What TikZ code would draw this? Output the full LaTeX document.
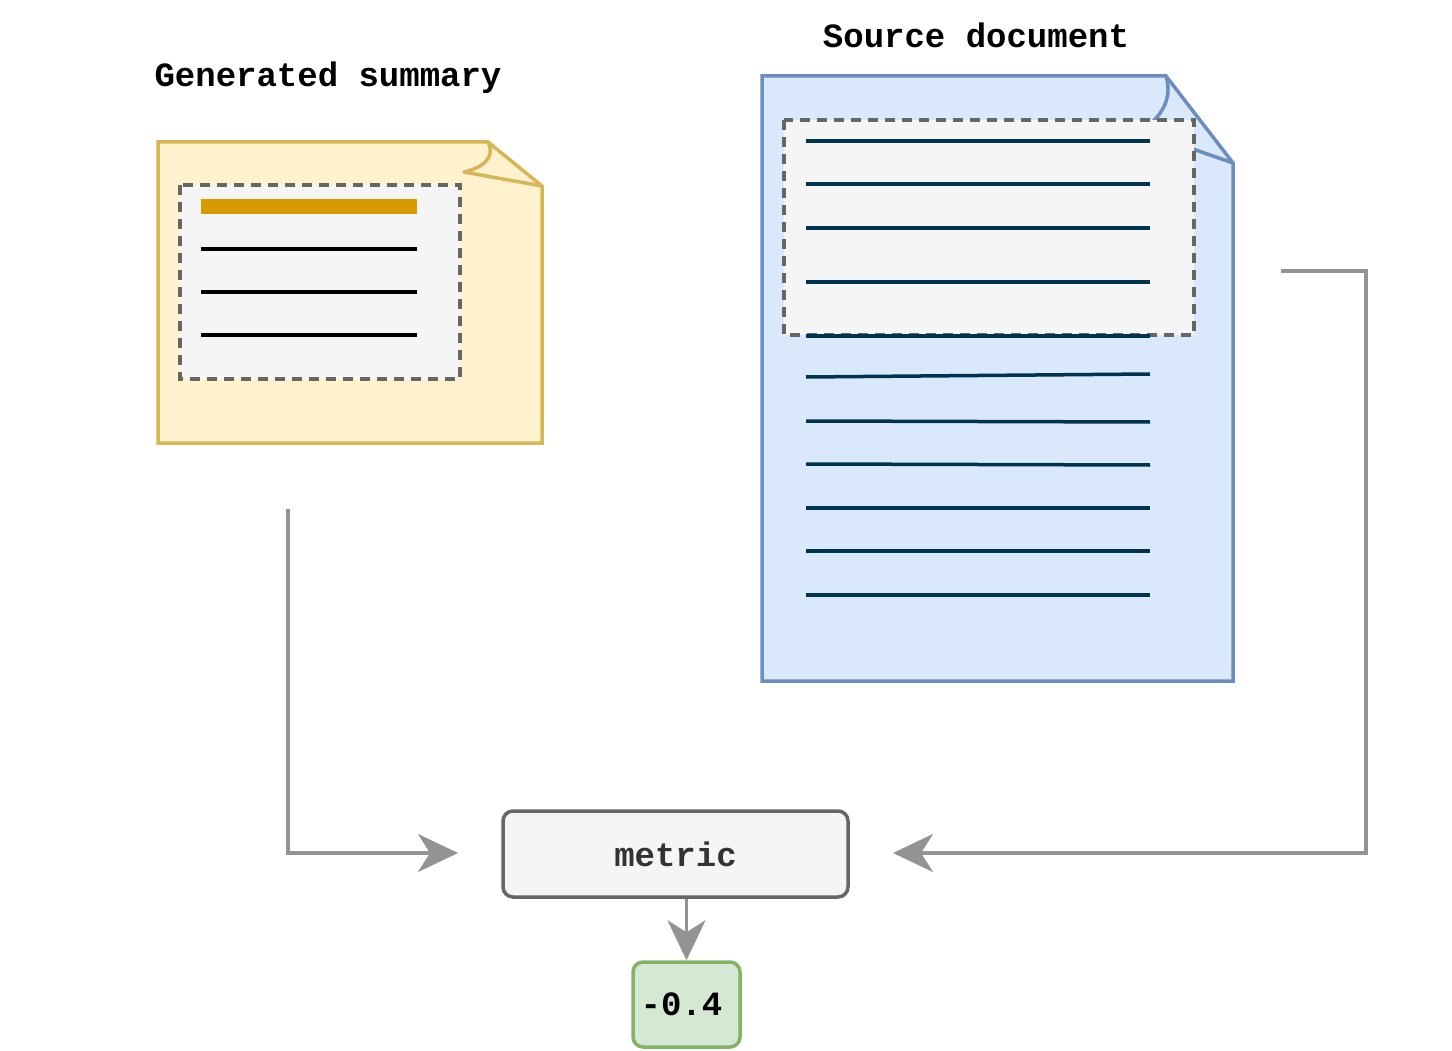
\documentclass[tikz,border=0pt]{standalone}
\usepackage{fontspec}
\setmonofont{Liberation Mono}
\usetikzlibrary{arrows.meta}
\definecolor{sumfill}{HTML}{FFF2CC}
\definecolor{sumdraw}{HTML}{D6B656}
\definecolor{srcfill}{HTML}{DAE8FC}
\definecolor{srcdraw}{HTML}{6C8EBF}
\definecolor{boxfill}{HTML}{F5F5F5}
\definecolor{boxdraw}{HTML}{666666}
\definecolor{navy}{HTML}{00334D}
\definecolor{orangebar}{HTML}{D79B00}
\definecolor{conn}{HTML}{939393}
\definecolor{valfill}{HTML}{D5E8D4}
\definecolor{valdraw}{HTML}{82B366}
\begin{document}
\begin{tikzpicture}[x=1pt,y=-1pt,
  lbl/.style={font=\ttfamily\bfseries\fontsize{34}{40}\selectfont, inner sep=0pt},
  docline/.style={line width=3.5pt, navy},
  sumline/.style={line width=3.5pt, black},
  dashbox/.style={draw=boxdraw, fill=boxfill, line width=3.5pt, dash pattern=on 10pt off 7pt},
  connector/.style={draw=conn, line width=3.5pt, -{Stealth[length=40pt,width=38pt,inset=12pt]}},
  procbox/.style={lbl, draw=boxdraw, fill=boxfill, line width=3.5pt, rounded corners=10pt, text=black!80},
  valbox/.style={lbl, draw=valdraw, fill=valfill, line width=3.5pt, rounded corners=10pt}
]
\useasboundingbox (0,0) rectangle (1452,1051);

% titles
\node[lbl] (titleSum) at (328,78) {Generated summary};
\node[lbl] (titleSrc) at (976,35) {Source document};

% generated summary document
\draw[draw=sumdraw, fill=sumfill, line width=3.5pt, line join=miter]
  (158,142) -- (488,142) -- (542,186) -- (542,443) -- (158,443) -- cycle;
\draw[draw=sumdraw, line width=3.5pt, line join=round]
  (488,142) .. controls (496,158) and (482,168) .. (464,172) -- (542,186);
\draw[dashbox] (180,185) rectangle (460,379);
\fill[orangebar] (201,199) rectangle (417,214);
\foreach \yy in {249,292,335} \draw[sumline] (201,\yy) -- (417,\yy);

% source document
\draw[draw=srcdraw, fill=srcfill, line width=3.5pt, line join=miter]
  (762,76) -- (1166,76) -- (1233,163) -- (1233,681) -- (762,681) -- cycle;
\draw[draw=srcdraw, line width=3.5pt]
  (1166,76) .. controls (1172,96) and (1164,112) .. (1150,124);
\draw[draw=srcdraw, line width=3.5pt] (1190,148) -- (1233,163);
\draw[dashbox] (784,120) rectangle (1194,335);
\foreach \yy in {141,184,228,282} \draw[docline] (806,\yy) -- (1150,\yy);
\draw[docline] (806,336) -- (1150,336);
\draw[docline] (806,377) -- (1150,374);
\draw[docline] (806,421) -- (1150,422);
\draw[docline] (806,464) -- (1150,465);
\foreach \yy in {508,551,595} \draw[docline] (806,\yy) -- (1150,\yy);

% process nodes
\node[procbox, minimum width=345pt, minimum height=86pt] (metric) at (675.5,854) {metric};
\node[valbox, minimum width=107pt, minimum height=85pt] (value) at (686.5,1004.5) {\hspace*{-10pt}-0.4};

% connector anchors
\coordinate (sumOut) at (288,509);
\coordinate (metricInL) at (458,853);
\coordinate (srcOut) at (1281,271);
\coordinate (metricInR) at (893,853);

\draw[connector] (sumOut) |- (metricInL);
\draw[connector] (srcOut) -- (1366,271) |- (metricInR);
\draw[connector] ([xshift=11pt]metric.south) -- (value.north);
\end{tikzpicture}
\end{document}
